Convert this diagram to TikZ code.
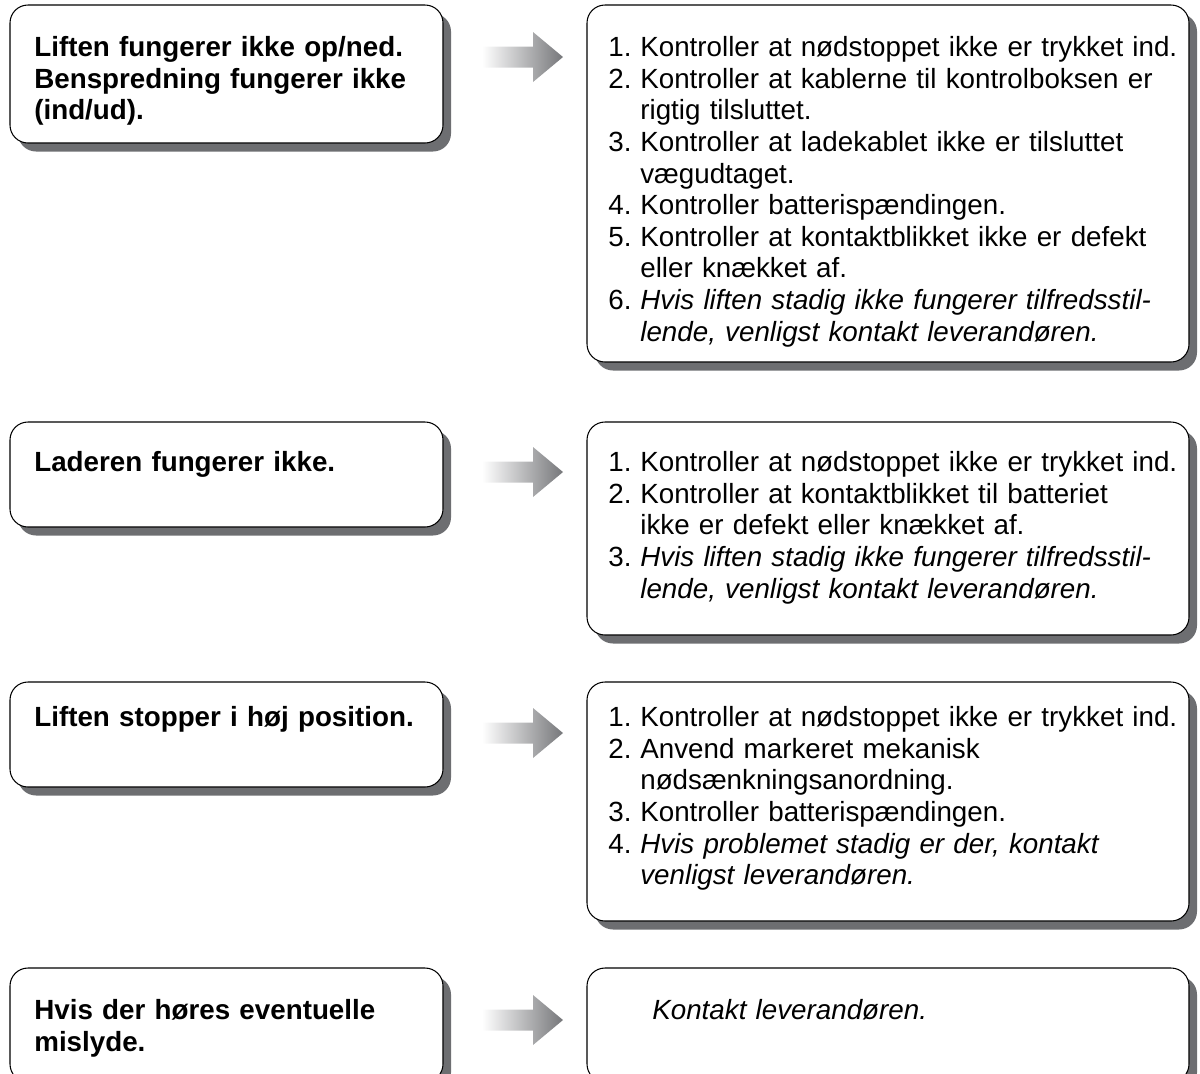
\documentclass[tikz,border=0pt]{standalone}
\usepackage{fontspec}
\setmainfont{Liberation Sans}
\usetikzlibrary{fit,shadows}
\definecolor{shadowgray}{HTML}{6D6E71}
\definecolor{arrowgray}{HTML}{76777A}
\newcommand{\nr}[1]{\makebox[0.64cm][l]{#1}}
\newcommand{\ind}{\hspace*{0.64cm}}
\begin{document}
\begin{tikzpicture}[x=0.02cm, y=-0.02cm,
  box/.style={draw=black, line width=0.6pt, fill=white, rounded corners=0.36cm, inner sep=0pt,
    drop shadow={shadow xshift=0.16cm, shadow yshift=-0.17cm, fill=shadowgray, opacity=1}},
  qtext/.style={anchor=base west, inner sep=0pt, align=left, text width=8cm,
    font=\fontsize{15.8}{18}\selectfont\bfseries},
  atext/.style={anchor=base west, inner sep=0pt, align=left, text width=11.5cm,
    font=\fontsize{15.8}{18}\selectfont}]
\useasboundingbox (0,0) rectangle (1200,1073);
% boxes
\node[box, fit={(10,5) (443,143)}] (q1) {};
\node[box, fit={(587,5) (1189,362)}] (a1) {};
\node[box, fit={(10,422) (443,527)}] (q2) {};
\node[box, fit={(587,422) (1189,635)}] (a2) {};
\node[box, fit={(10,682) (443,787)}] (q3) {};
\node[box, fit={(587,682) (1189,921)}] (a3) {};
\node[box, fit={(10,968) (443,1082)}] (q4) {};
\node[box, fit={(587,968) (1189,1082)}] (a4) {};
% texts
\node[qtext] (qt1) at (34,56.5) {Liften fungerer ikke op/ned.\\Benspredning fungerer ikke\\(ind/ud).};
\node[atext] (at1) at (608,56.5) {\nr{1.}Kontroller at nødstoppet ikke er trykket ind.\\
  \nr{2.}Kontroller at kablerne til kontrolboksen er\\
  \ind rigtig tilsluttet.\\
  \nr{3.}Kontroller at ladekablet ikke er tilsluttet\\
  \ind vægudtaget.\\
  \nr{4.}Kontroller batterispændingen.\\
  \nr{5.}Kontroller at kontaktblikket ikke er defekt\\
  \ind eller knækket af.\\
  \nr{6.}\textit{Hvis liften stadig ikke fungerer tilfredsstil-}\\
  \ind\textit{lende, venligst kontakt leverandøren.}};
\node[qtext] (qt2) at (34,471.5) {Laderen fungerer ikke.};
\node[atext] (at2) at (608,471.5) {\nr{1.}Kontroller at nødstoppet ikke er trykket ind.\\
  \nr{2.}Kontroller at kontaktblikket til batteriet\\
  \ind ikke er defekt eller knækket af.\\
  \nr{3.}\textit{Hvis liften stadig ikke fungerer tilfredsstil-}\\
  \ind\textit{lende, venligst kontakt leverandøren.}};
\node[qtext] (qt3) at (34,726.5) {Liften stopper i høj position.};
\node[atext] (at3) at (608,726.5) {\nr{1.}Kontroller at nødstoppet ikke er trykket ind.\\
  \nr{2.}Anvend markeret mekanisk\\
  \ind nødsænkningsanordning.\\
  \nr{3.}Kontroller batterispændingen.\\
  \nr{4.}\textit{Hvis problemet stadig er der, kontakt}\\
  \ind\textit{venligst leverandøren.}};
\node[qtext] (qt4) at (34,1019.5) {Hvis der høres eventuelle\\mislyde.};
\node[atext] (at4) at (652,1019.5) {\textit{Kontakt leverandøren.}};
% arrows
\foreach \c in {57,472,733,1020}
  \shade[left color=white, right color=arrowgray] (482,\c-10.5) -- (533,\c-10.5) -- (533,\c-25)
    -- (563,\c) -- (533,\c+25) -- (533,\c+10.5) -- (482,\c+10.5) -- cycle;
\end{tikzpicture}
\end{document}
